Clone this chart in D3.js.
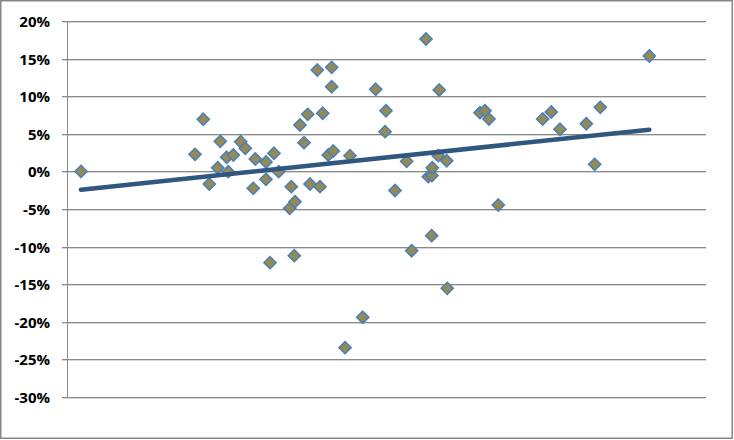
<!DOCTYPE html>
<html>
<head>
<meta charset="utf-8">
<script src="https://cdn.jsdelivr.net/npm/d3@7"></script>
<style>
  html, body { margin: 0; padding: 0; background: #fff; }
  svg { display: block; }
</style>
</head>
<body>
<svg id="chart" width="734" height="440"></svg>
<script>
// ---- data (x in arbitrary units 0..100, y in %) ----
const xValues = [2.19, 20.03, 21.33, 22.27, 23.58, 23.99, 24.99, 25.24, 26.03, 27.18,
  27.90, 29.15, 29.47, 31.14, 31.14, 31.77, 32.39, 33.13, 34.85, 35.10,
  35.68, 35.57, 36.46, 37.09, 37.67, 38.03, 39.17, 39.59, 40.02, 41.42,
  41.42, 40.89, 41.67, 43.51, 44.29, 46.28, 48.31, 49.77, 49.92, 51.33,
  53.16, 53.94, 56.18, 56.54, 57.12, 57.07, 57.17, 58.26, 58.11, 59.42,
  59.51, 64.63, 65.41, 66.04, 67.50, 74.44, 75.79, 77.15, 81.27, 83.46,
  82.58, 91.13];
const yValues = [0.0, 2.27, 6.93, -1.68, 0.49, 4.00, 1.88, -0.04, 2.18, 3.95,
  3.07, -2.25, 1.65, 1.25, -1.05, -12.14, 2.41, -0.04, -4.91, -2.03,
  -4.03, -11.21, 6.17, 3.82, 7.59, -1.68, 13.48, -2.03, 7.73, 13.84,
  11.26, 2.18, 2.71, -23.44, 2.09, -19.40, 10.92, 5.28, 8.07, -2.54,
  1.34, -10.55, 17.61, -0.70, -0.55, -8.55, 0.49, 10.82, 2.09, 1.42,
  -15.55, 7.81, 8.07, 6.97, -4.47, 6.97, 7.90, 5.60, 6.34, 8.52,
  0.94, 15.35];
const trendX = [2.19, 91.13];
const trendY = [-2.43, 5.55];
const yTicks = [20, 15, 10, 5, 0, -5, -10, -15, -20, -25, -30];

// ---- layout ----
const svg = d3.select("#chart");
const W = 734, H = 440;
const plot = { left: 67, right: 706, top: 21, bottom: 397 };

const x = d3.scaleLinear().domain([0, 100]).range([plot.left, plot.right]);
const y = d3.scaleLinear().domain([-30, 20]).range([plot.bottom, plot.top]);

// outer chart border
svg.append("rect")
  .attr("x", 0.75).attr("y", 0.75)
  .attr("width", W - 2.5).attr("height", H - 2.5)
  .attr("fill", "#fff")
  .attr("stroke", "#868686").attr("stroke-width", 1.5);

// gridlines (with light shadow line)
const grid = svg.append("g");
yTicks.forEach(t => {
  const yy = Math.round(y(t));
  grid.append("line")
    .attr("x1", plot.left - 5).attr("x2", plot.right)
    .attr("y1", yy + 0.5).attr("y2", yy + 0.5)
    .attr("stroke", "#8a8a8a").attr("stroke-width", 1);
  grid.append("line")
    .attr("x1", plot.left - 5).attr("x2", plot.right)
    .attr("y1", yy + 1.5).attr("y2", yy + 1.5)
    .attr("stroke", "#d6d6d6").attr("stroke-width", 1);
});

// y axis via d3 axis (labels only) + vertical axis line
const yAxis = d3.axisLeft(y)
  .tickValues(yTicks)
  .tickSize(0)
  .tickPadding(0)
  .tickFormat(d => d + "%");
const ag = svg.append("g")
  .attr("transform", `translate(50,0)`)
  .call(yAxis);
ag.select(".domain").remove();
ag.selectAll("text")
  .attr("font-family", "'Open Sans', sans-serif")
  .attr("font-weight", "bold")
  .attr("font-size", 15)
  .attr("fill", "#000")
  .attr("x", 0)
  .attr("dy", "0.36em");

svg.append("line")
  .attr("x1", plot.left + 0.5).attr("x2", plot.left + 0.5)
  .attr("y1", plot.top).attr("y2", plot.bottom + 1)
  .attr("stroke", "#8a8a8a").attr("stroke-width", 1);

// markers
const pts = xValues.map((v, i) => ({ x: v, y: yValues[i] }));
const diamond = d3.symbol().type(d3.symbolDiamond2).size(95);
svg.append("g").selectAll("path")
  .data(pts)
  .join("path")
  .attr("d", diamond)
  .attr("transform", d => `translate(${x(d.x)},${y(d.y)}) rotate(0)`)
  .attr("fill", "#948A54")
  .attr("stroke", "#4A7EBB")
  .attr("stroke-width", 1.5);

// trendline
const line = d3.line().x(d => x(d[0])).y(d => y(d[1]));
svg.append("path")
  .datum(trendX.map((v, i) => [v, trendY[i]]))
  .attr("d", line)
  .attr("fill", "none")
  .attr("stroke", "#30577F")
  .attr("stroke-width", 4.5)
  .attr("stroke-linecap", "round");
</script>
</body>
</html>
